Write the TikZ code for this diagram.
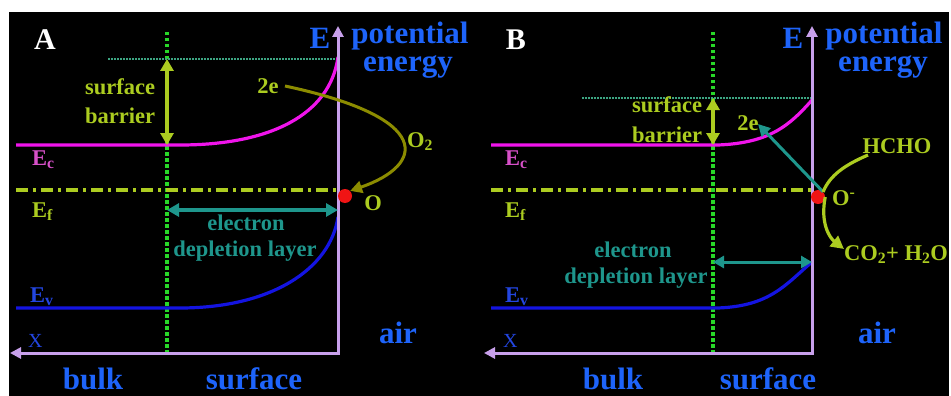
\documentclass[tikz,border=0pt]{standalone}
\usepackage{fontspec}
\setmainfont{Liberation Serif}
\usetikzlibrary{arrows.meta}
\definecolor{tblue}{RGB}{30,100,250}
\definecolor{ygreen}{RGB}{172,204,32}
\definecolor{magline}{RGB}{240,20,235}
\definecolor{maglbl}{RGB}{215,80,200}
\definecolor{gdotc}{RGB}{40,215,40}
\definecolor{tealc}{RGB}{30,150,140}
\definecolor{tealdot}{RGB}{60,165,130}
\definecolor{evline}{RGB}{20,20,225}
\definecolor{evlbl}{RGB}{35,70,225}
\definecolor{axisc}{RGB}{200,160,235}
\definecolor{olivec}{RGB}{140,140,0}
\definecolor{redc}{RGB}{240,20,20}
\begin{document}
\begin{tikzpicture}[x=1pt,y=-1pt,
  big/.style={inner sep=0pt, anchor=base, text=tblue, font=\fontsize{31}{31}\selectfont\bfseries},
  mid/.style={inner sep=0pt, anchor=base, font=\fontsize{22.5}{22.5}\selectfont\bfseries},
  panel/.style={inner sep=0pt, anchor=base, text=white, font=\fontsize{30}{30}\selectfont\bfseries},
  axisline/.style={draw=axisc, line width=3pt, {Triangle[length=11pt,width=11pt]}-{Triangle[length=11pt,width=11pt]}},
  gdotline/.style={draw=gdotc, line width=4pt, dash pattern=on 3.5pt off 2.5pt},
  tdotline/.style={draw=tealdot, line width=2.4pt, dash pattern=on 1.5pt off 1.5pt},
  fermi/.style={draw=ygreen, line width=4pt, dash pattern=on 12pt off 5pt on 3pt off 5pt},
  ecline/.style={draw=magline, line width=3.2pt},
  evlinest/.style={draw=evline, line width=3.2pt},
  barrierarrow/.style={draw=ygreen, line width=4pt, {Triangle[length=12pt,width=13pt]}-{Triangle[length=12pt,width=13pt]}},
  deplarrow/.style={draw=tealc, line width=4pt, {Triangle[length=12pt,width=13pt]}-{Triangle[length=12pt,width=13pt]}},
  deplarrowB/.style={draw=tealc, line width=3pt, {Triangle[length=11pt,width=12pt]}-{Triangle[length=11pt,width=12pt]}},
  reddot/.style={circle, fill=redc, inner sep=0pt, minimum size=14pt},
  olivearrow/.style={draw=olivec, line width=3pt, -{Triangle[length=12pt,width=12pt]}},
  tealarrow/.style={draw=tealc, line width=3pt, -{Triangle[length=12pt,width=12pt]}},
  yarrow/.style={draw=ygreen, line width=3.2pt, -{Triangle[length=13pt,width=13pt]}},
  yline/.style={draw=ygreen, line width=3.2pt}
]
\fill[white] (0,0) rectangle (951,396);
\fill[black] (9,12) rectangle (949,396);
\useasboundingbox (0,0) rectangle (951,396);

% ================= Panel A =================
\coordinate (Aorig) at (338,353);
\coordinate (Atop) at (338,26);
\coordinate (Aleft) at (10,353);
\coordinate (Ag1) at (167,32);
\coordinate (Ag2) at (167,353);
\coordinate (At1) at (108,59);
\coordinate (At2) at (338,59);
\coordinate (Af1) at (16,190);
\coordinate (Af2) at (338,190);
\coordinate (Ab1) at (167,59);
\coordinate (Ab2) at (167,145);
\coordinate (Ad1) at (167,210);
\coordinate (Ad2) at (338,210);

\draw[gdotline] (Ag1) -- (Ag2);
\draw[tdotline] (At1) -- (At2);
\draw[fermi] (Af1) -- (Af2);
\draw[ecline] (16,145) -- (180,145) .. controls (270,145) and (330,115) .. (338,57);
\draw[evlinest] (16,308) -- (180,308) .. controls (270,308) and (330,270) .. (338,217);
\draw[axisline] (Aleft) -- (Aorig) -- (Atop);
\draw[barrierarrow] (Ab1) -- (Ab2);
\draw[deplarrow] (Ad1) -- (Ad2);
\node[reddot] (AO) at (345,196) {};

\node[panel] (Alab) at (45,50) {A};
\node[big] (AE) at (320,49) {E};
\node[big] (Apot) at (410,44) {potential};
\node[big] (Aen) at (408,72) {energy};
\node[mid, text=ygreen] (Asurf) at (120,95) {surface};
\node[mid, text=ygreen] (Abarr) at (120,123) {barrier};
\node[mid, text=ygreen] (A2e) at (268,93) {2e};
\node[mid, text=ygreen, anchor=base west] (AO2) at (407,147) {O\textsubscript{2}};
\node[mid, text=ygreen] (AOl) at (373,210) {O};
\node[mid, text=maglbl, anchor=base west] (AEc) at (32,165) {E\textsubscript{c}};
\node[mid, text=ygreen, anchor=base west] (AEf) at (32,217) {E\textsubscript{f}};
\node[mid, text=evlbl, anchor=base west] (AEv) at (30,302) {E\textsubscript{v}};
\node[mid, text=tealc] (Ael) at (246,230) {electron};
\node[mid, text=tealc] (Adep) at (245,256) {depletion layer};
\node[inner sep=0pt, anchor=base west, text=evlbl, font=\fontsize{20}{20}\selectfont] (AX) at (28,347) {X};
\node[big] (Aair) at (398,343) {air};
\node[big] (Abulk) at (93,389) {bulk};
\node[big] (Asurfb) at (254,389) {surface};

\coordinate (A2es) at (285,86);
\draw[olivearrow] (A2es) .. controls (435,118) and (425,165) .. (AO.north east);

% ================= Panel B =================
\coordinate (Borig) at (812,353);
\coordinate (Btop) at (812,26);
\coordinate (Bleft) at (484,353);
\coordinate (Bg1) at (713,32);
\coordinate (Bg2) at (713,353);
\coordinate (Bt1) at (582,98);
\coordinate (Bt2) at (812,98);
\coordinate (Bf1) at (491,190);
\coordinate (Bf2) at (812,190);
\coordinate (Bb1) at (713,98);
\coordinate (Bb2) at (713,145);
\coordinate (Bd1) at (713,262);
\coordinate (Bd2) at (812,262);

\draw[gdotline] (Bg1) -- (Bg2);
\draw[tdotline] (Bt1) -- (Bt2);
\draw[fermi] (Bf1) -- (Bf2);
\draw[ecline] (491,145) -- (718,145) .. controls (770,143) and (790,125) .. (812,100);
\draw[evlinest] (491,308) -- (718,308) .. controls (770,306) and (785,285) .. (812,262);
\draw[axisline] (Bleft) -- (Borig) -- (Btop);
\draw[barrierarrow] (Bb1) -- (Bb2);
\draw[deplarrowB] (Bd1) -- (Bd2);
\node[reddot] (BO) at (818,197) {};

\node[panel] (Blab) at (516,50) {B};
\node[big] (BE) at (793,49) {E};
\node[big] (Bpot) at (884,44) {potential};
\node[big] (Ben) at (883,72) {energy};
\node[mid, text=ygreen] (Bsurf) at (667,113) {surface};
\node[mid, text=ygreen] (Bbarr) at (667,142) {barrier};
\node[mid, text=ygreen] (B2e) at (748,130) {2e};
\node[mid, text=ygreen] (BHCHO) at (897,153) {HCHO};
\node[mid, text=ygreen, anchor=base west] (BOm) at (832,205) {O\textsuperscript{-}};
\node[mid, text=ygreen] (BCO) at (896,260) {CO\textsubscript{2}+ H\textsubscript{2}O};
\node[mid, text=maglbl, anchor=base west] (BEc) at (505,165) {E\textsubscript{c}};
\node[mid, text=ygreen, anchor=base west] (BEf) at (505,217) {E\textsubscript{f}};
\node[mid, text=evlbl, anchor=base west] (BEv) at (505,302) {E\textsubscript{v}};
\node[mid, text=tealc] (Bel) at (633,257) {electron};
\node[mid, text=tealc] (Bdep) at (636,283) {depletion layer};
\node[inner sep=0pt, anchor=base west, text=evlbl, font=\fontsize{20}{20}\selectfont] (BX) at (503,347) {X};
\node[big] (Bair) at (877,343) {air};
\node[big] (Bbulk) at (613,389) {bulk};
\node[big] (Bsurfb) at (768,389) {surface};

\coordinate (B2et) at (758,124);
\coordinate (BHs) at (868,155);
\coordinate (BCOe) at (844,249);
\draw[tealarrow] (BO.north east) -- (B2et);
\draw[yline] (BHs) .. controls (845,165) and (830,175) .. (BO.north east);
\draw[yarrow] (BO.east) .. controls (820,224) and (830,238) .. (BCOe);
\end{tikzpicture}
\end{document}
